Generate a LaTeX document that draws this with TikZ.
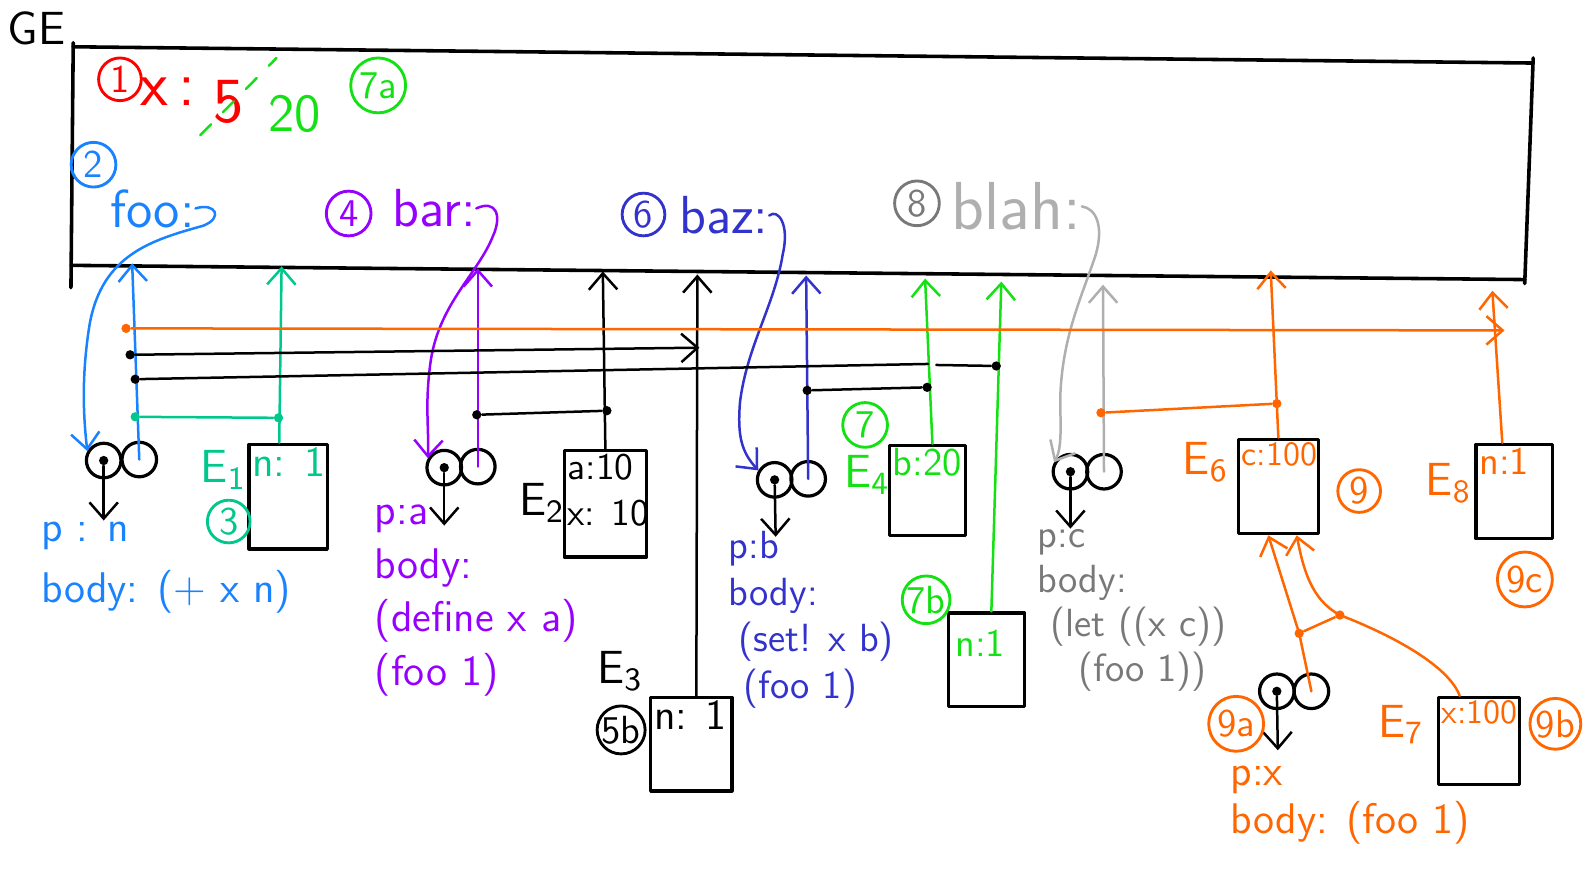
\documentclass[tikz,border=0pt]{standalone}
\usepackage{tikz}
\usetikzlibrary{arrows.meta,positioning,calc}
\renewcommand{\familydefault}{\sfdefault}
\definecolor{redpen}{RGB}{255,0,0}
\definecolor{greenpen}{RGB}{20,225,20}
\definecolor{bluepen}{RGB}{25,130,255}
\definecolor{tealpen}{RGB}{0,200,140}
\definecolor{purplepen}{RGB}{150,0,255}
\definecolor{indigopen}{RGB}{50,50,205}
\definecolor{graypen}{RGB}{175,175,175}
\definecolor{darkgraypen}{RGB}{120,120,120}
\definecolor{orangepen}{RGB}{255,102,0}

\begin{document}
\begin{tikzpicture}[x=0.1mm, y=-0.1mm, line cap=round, line join=round,
  >={Straight Barb[length=1.6mm, width=2.8mm]}]
 \tikzset{
geframe/.style = {draw, line width=1pt},
ptr/.style = {->, line width=0.7pt},
link/.style = {line width=0.7pt},
bubble/.style = {circle, draw, line width=0.9pt, minimum size=3.4mm, inner sep=0pt},
joint/.style = {circle, fill, inner sep=0pt, minimum size=2.6pt},
envbox/.style = {rectangle, draw, line width=0.9pt},
numcircle/.style = {circle, draw, line width=0.8pt, inner sep=0pt, minimum size=4.2mm, font=\fontsize{11}{11}\selectfont},
binding/.style = {anchor=north west, inner sep=1.2pt, align=left, font=\fontsize{11}{12}\selectfont},
codetext/.style = {anchor=north west, inner sep=0pt, align=left, font=\fontsize{12}{15}\selectfont},
varname/.style = {inner sep=0pt, font=\fontsize{15}{15}\selectfont},
envname/.style = {inner sep=0pt, font=\fontsize{13}{13}\selectfont}}

\useasboundingbox (0,0) rectangle (1568,864);

    % global frame
    \coordinate (ge-nw) at (72,46);
    \coordinate (ge-ne) at (1508,62);
    \coordinate (ge-se) at (1500,275);
    \coordinate (ge-sw) at (70,261);
    \draw[geframe] (ge-nw) -- (ge-ne) (ge-sw) -- (ge-se);
    \draw[geframe, shorten <=-0.4mm, shorten >=-2.2mm] (ge-nw) -- (ge-sw);
    \draw[geframe, shorten <=-0.5mm, shorten >=-0.4mm] (ge-ne) -- (ge-se);
    \node[inner sep=0pt, font=\fontsize{13}{13}\selectfont] (gelabel) at (36,28) {GE};

    \node[numcircle, redpen] (n1) at (118,78) {1};
    \node[varname, redpen, font=\fontsize{18}{18}\selectfont] (xname) at (165,90) {x\,:};
    \node[varname, redpen, font=\fontsize{18}{18}\selectfont] (xold) at (225,100) {5};
    \coordinate (strikeA) at (197,133);
    \coordinate (strikeB) at (272,57);
    \draw[link, greenpen, dash pattern=on 1.5mm off 1.7mm] (strikeA) -- (strikeB);
    \node[varname, greenpen] (xnew) at (290,112) {20};
    \node[numcircle, greenpen, minimum size=5.4mm] (n7a) at (372,84) {7a};

    \node[numcircle, bluepen, minimum size=4.4mm] (n2) at (92,162) {2};
    \node[varname, bluepen] (foo) at (150,205) {foo:};
    \node[numcircle, purplepen, minimum size=4.4mm] (n4) at (343,210) {4};
    \node[varname, purplepen] (bar) at (427,205) {bar:};
    \node[numcircle, indigopen] (n6) at (633,211) {6};
    \node[varname, indigopen] (baz) at (712,212) {baz:};
    \node[numcircle, darkgraypen, minimum size=4.4mm] (n8) at (902,200) {8};
    \node[varname, graypen, font=\fontsize{19}{19}\selectfont] (blah) at (1000,203) {blah:};

    % where the arrows meet the frame
    \coordinate (tfoo) at (130,259);
    \coordinate (tE1) at (277,262);
    \coordinate (tbar) at (470,264);
    \coordinate (tE2) at (593,267);
    \coordinate (tE3) at (686,270);
    \coordinate (tbaz) at (793,271);
    \coordinate (tE4) at (910,274);
    \coordinate (tE5) at (985,277);
    \coordinate (tblah) at (1085,280);
    \coordinate (tE6) at (1250,266);
    \coordinate (tE8) at (1468,286);

    % procedures
    \node[bubble] (fooL) at (102,453) {};
    \node[bubble] (fooR) at (137,452) {};
    \node[joint] (fooD) at (fooL) {};
    \coordinate (fooP) at (102,512);
    \draw[ptr] (fooD) -- (fooP);
    \draw[ptr, bluepen] (fooR.center) -- (tfoo);
    \draw[ptr, bluepen] (foo.east) .. controls (212,199) and (220,214) .. (200,222) .. controls (150,236) and (100,250) .. (88,320) .. controls (80,370) and (82,410) .. (fooL.150);
    \node[codetext, bluepen, font=\fontsize{12}{17}\selectfont] (foobody) at (40,513) {p : n\\body: (+ x n)};

    \node[bubble] (barL) at (437,460) {};
    \node[bubble] (barR) at (470,459) {};
    \node[joint] (barD) at (barL) {};
    \coordinate (barP) at (437,517);
    \draw[ptr] (barD) -- (barP);
    \draw[ptr, purplepen] (barR.center) -- (tbar);
    \draw[ptr, purplepen] (bar.east) .. controls (488,196) and (494,212) .. (485,232) .. controls (470,270) and (430,300) .. (423,360) .. controls (418,400) and (422,420) .. (barL.150);
    \node[codetext, purplepen] (barbody) at (368,496) {p:a\\body:\\(define x a)\\(foo 1)};

    \node[bubble] (bazL) at (762,472) {};
    \node[bubble] (bazR) at (795,471) {};
    \node[joint] (bazD) at (bazL) {};
    \coordinate (bazP) at (763,528);
    \draw[ptr] (bazD) -- (bazP);
    \draw[ptr, indigopen] (bazR.center) -- (tbaz);
    \draw[ptr, indigopen] (baz.east) .. controls (765,205) and (777,220) .. (770,250) .. controls (762,300) and (735,340) .. (728,395) .. controls (725,430) and (730,445) .. (bazL.150);
    \node[codetext, indigopen, font=\fontsize{11}{13}\selectfont] (bazbody) at (716,522) {p:b\\body:\\\hspace*{1mm}(set! x b)\\\hspace*{1.5mm}(foo 1)};

    \node[bubble] (blahL) at (1053,464) {};
    \node[bubble] (blahR) at (1086,464) {};
    \node[joint] (blahD) at (blahL) {};
    \coordinate (blahP) at (1053,520);
    \draw[ptr] (blahD) -- (blahP);
    \draw[ptr, graypen] (blahR.center) -- (tblah);
    \draw[ptr, graypen] (blah.east) .. controls (1078,205) and (1086,222) .. (1078,250) .. controls (1065,290) and (1045,330) .. (1043,390) .. controls (1043,420) and (1045,440) .. (blahL.150);
    \node[codetext, darkgraypen, font=\fontsize{11}{12.5}\selectfont] (blahbody) at (1020,520) {p:c\\body:\\\hspace*{1.3mm}(let ((x c))\\\hspace*{4mm}(foo 1))};

    \node[bubble] (lamL) at (1256,680) {};
    \node[bubble] (lamR) at (1290,680) {};
    \node[joint] (lamD) at (lamL) {};
    \coordinate (lamP) at (1257,738);
    \draw[ptr] (lamD) -- (lamP);
    \node[codetext, orangepen, font=\fontsize{12}{13.5}\selectfont] (lambody) at (1210,753) {p:x\\body: (foo 1)};

    % frames
    \node[envbox, minimum width=7.7mm, minimum height=10.3mm] (E1) at (283.5,488.5) {};
    \node[binding, tealpen, font=\fontsize{12}{12}\selectfont] (E1v) at (E1.north west) {n: 1};
    \node[envname, tealpen] (E1n) at (220,462) {E\textsubscript{1}};
    \node[numcircle, tealpen] (n3) at (225,513) {3};
    \draw[ptr, tealpen] ($(E1.north west)!0.39!(E1.north east)$) -- (tE1);

    \node[envbox, minimum width=8.1mm, minimum height=10.5mm] (E2) at (595.5,495.5) {};
    \node[binding, font=\fontsize{10.5}{13}\selectfont] (E2v) at (E2.north west) {a:10\\x: 10};
    \node[envname] (E2n) at (533,495) {E\textsubscript{2}};
    \draw[ptr] (E2.north) -- (tE2);

    \node[envbox, minimum width=8mm, minimum height=9.2mm] (E3) at (680,732) {};
    \node[binding, font=\fontsize{12}{12}\selectfont] (E3v) at (E3.north west) {n: 1};
    \node[envname] (E3n) at (610,660) {E\textsubscript{3}};
    \node[numcircle, minimum size=4.4mm] (n5b) at (611,718) {5b};
    \draw[ptr] ($(E3.north west)!0.56!(E3.north east)$) -- (tE3);

    \node[envbox, minimum width=7.5mm, minimum height=8.9mm] (E4) at (912.5,482.5) {};
    \node[binding, greenpen] (E4v) at (E4.north west) {b:20};
    \node[envname, greenpen] (E4n) at (853,467) {E\textsubscript{4}};
    \node[numcircle, greenpen, minimum size=4.4mm] (n7) at (851,418) {7};
    \draw[ptr, greenpen] ($(E4.north west)!0.56!(E4.north east)$) -- (tE4);

    \node[envbox, minimum width=7.5mm, minimum height=9.2mm] (E5) at (970.5,649) {};
    \node[binding, greenpen, anchor=west] (E5v) at (935,633) {n:1};
    \node[numcircle, greenpen, minimum size=4.6mm] (n7b) at (911,590) {7b};
    \draw[ptr, greenpen] ($(E5.north west)!0.56!(E5.north east)$) -- (tE5);

    \node[envbox, minimum width=7.9mm, minimum height=9.3mm] (E6) at (1257.5,478.5) {};
    \node[binding, orangepen, font=\fontsize{9.5}{10}\selectfont] (E6v) at (E6.north west) {c:100};
    \node[envname, orangepen] (E6n) at (1186,455) {E\textsubscript{6}};
    \node[numcircle, orangepen] (n9) at (1337,483) {9};
    \draw[ptr, orangepen] (E6.north) -- (tE6);

    \node[envbox, minimum width=8mm, minimum height=8.6mm] (E7) at (1455,729) {};
    \node[binding, orangepen, font=\fontsize{9.5}{10}\selectfont] (E7v) at (E7.north west) {x:100};
    \node[envname, orangepen] (E7n) at (1378,713) {E\textsubscript{7}};
    \node[numcircle, orangepen, minimum size=5mm] (n9b) at (1530,712) {9b};
    \node[numcircle, orangepen, minimum size=5.4mm] (n9a) at (1216,712) {9a};

    \node[envbox, minimum width=7.5mm, minimum height=9.3mm] (E8) at (1489.5,483.5) {};
    \node[binding, orangepen] (E8v) at (E8.north west) {n:1};
    \node[envname, orangepen] (E8n) at (1425,475) {E\textsubscript{8}};
    \node[numcircle, orangepen, minimum size=5.4mm] (n9c) at (1500,570) {9c};
    \draw[ptr, orangepen] ($(E8.north west)!0.35!(E8.north east)$) -- (tE8);

    % parent links
    \node[joint, orangepen] (oS) at (124,323) {};
    \coordinate (oE) at (1480,325);
    \draw[ptr, orangepen] (oS) -- (oE);
    \node[joint] (aS) at (128,349) {};
    \coordinate (aE) at (688,342);
    \draw[ptr] (aS) -- (aE);
    \node[joint] (bS) at (133,373) {};
    \coordinate (bM) at (913,358);
    \coordinate (bN) at (921,359);
    \node[joint] (bE) at (980,360) {};
    \draw[link] (bS) -- (bM) (bN) -- (bE);
    \node[joint, tealpen] (cS) at (133,410) {};
    \node[joint, tealpen] (cE) at (274,411) {};
    \draw[link, tealpen] (cS) -- (cE);
    \node[joint] (dS) at (469,408) {};
    \node[joint] (dE) at (597,404) {};
    \draw[link] (dS) -- (dE);
    \node[joint] (eS) at (794,384) {};
    \node[joint] (eE) at (912,381) {};
    \draw[link] (eS) -- (eE);
    \node[joint, orangepen] (fS) at (1083,406) {};
    \node[joint, orangepen] (fE) at (1256,397) {};
    \draw[link, orangepen] (fS) -- (fE);

    \node[joint, orangepen] (j1) at (1278,623) {};
    \node[joint, orangepen] (j2) at (1318,605) {};
    \draw[ptr, orangepen] (lamR.center) -- (j1.center) -- ($(E6.south west)!0.38!(E6.south east)$);
    \draw[ptr, orangepen] ($(E7.north west)!0.27!(E7.north east)$) .. controls (1425,655) and (1370,625) .. (j2.center) .. controls (1290,590) and (1282,560) .. ($(E6.south west)!0.72!(E6.south east)$);
    \draw[link, orangepen] (j1) -- (j2);

\end{tikzpicture}
\end{document}
